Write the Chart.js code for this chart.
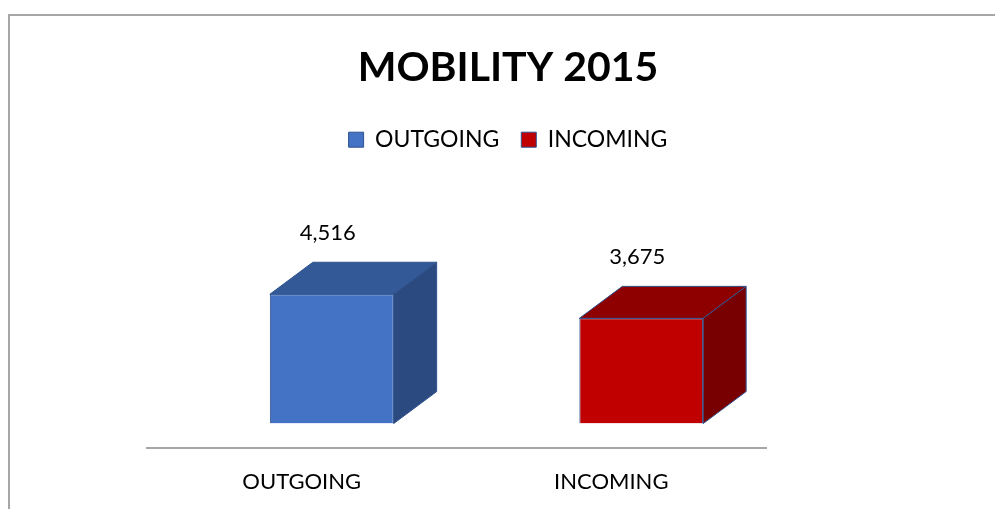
<!DOCTYPE html>
<html>
<head>
<meta charset="utf-8">
<script src="https://cdn.jsdelivr.net/npm/chart.js@4.4.1/dist/chart.umd.min.js"></script>
<style>
    html, body { margin: 0; padding: 0; background: #fff; overflow: hidden; }
    #frame {
        position: absolute; left: 8px; top: 14px; width: 1100px; height: 600px;
        border-top: 2px solid #a6a6a6; border-left: 2px solid #a6a6a6;
    }
    #wrap { position: absolute; left: 0; top: 0; width: 995px; height: 509px; }
</style>
</head>
<body>
<div id="frame"></div>
<div id="wrap"><canvas id="mobilityChart"></canvas></div>
<script>
const categories  = ['OUTGOING', 'INCOMING'];
const values      = [4516, 3675];
const frontColors = ['#4472C4', '#C00000'];
const topColors   = ['#335A96', '#8E0000'];
const sideColors  = ['#2A4A80', '#780000'];
const EDGE = '#2F528F';

// 3d look: front face shifted back from the floor line, plus depth
const SHIFT_X = 30, SHIFT_Y = -24;
const DEPTH_X = 43, DEPTH_Y = -32;

const cubePlugin = {
    id: 'cube',
    beforeDatasetsDraw(chart) {
        chart.ctx.save();
        chart.ctx.translate(SHIFT_X, SHIFT_Y);
    },
    afterDatasetsDraw(chart) {
        const ctx = chart.ctx;
        chart.getDatasetMeta(0).data.forEach((bar, i) => {
            const { x, y, base, width } = bar.getProps(['x', 'y', 'base', 'width'], true);
            const l = x - width / 2, r = x + width / 2;

            ctx.lineWidth = 1;
            ctx.strokeStyle = EDGE;

            // top face
            ctx.beginPath();
            ctx.moveTo(l, y);
            ctx.lineTo(l + DEPTH_X, y + DEPTH_Y);
            ctx.lineTo(r + DEPTH_X, y + DEPTH_Y);
            ctx.lineTo(r, y);
            ctx.closePath();
            ctx.fillStyle = topColors[i];
            ctx.fill();
            ctx.stroke();

            // side face
            ctx.beginPath();
            ctx.moveTo(r, y);
            ctx.lineTo(r + DEPTH_X, y + DEPTH_Y);
            ctx.lineTo(r + DEPTH_X, base + DEPTH_Y);
            ctx.lineTo(r, base);
            ctx.closePath();
            ctx.fillStyle = sideColors[i];
            ctx.fill();
            ctx.stroke();

            // value label
            ctx.fillStyle = '#000';
            ctx.font = '22px Lato';
            ctx.textAlign = 'center';
            ctx.textBaseline = 'middle';
            ctx.fillText(values[i].toLocaleString('en-US'), x - 4, y - 61);
        });
        ctx.restore();
    },
};

new Chart(document.getElementById('mobilityChart'), {
    type: 'bar',
    data: {
        labels: categories,
        datasets: [{
            data: values,
            backgroundColor: frontColors,
            borderColor: EDGE,
            borderWidth: 1,
            categoryPercentage: 1,
            barPercentage: 0.4,
        }],
    },
    options: {
        responsive: true,
        maintainAspectRatio: false,
        animation: false,
        layout: { padding: { left: 21, right: 0, top: 0, bottom: 1 } },
        plugins: {
            title: {
                display: true,
                text: 'MOBILITY 2015',
                color: '#000',
                font: { family: 'Lato', size: 41, weight: 'bold' },
                padding: { top: 43, bottom: 14 },
            },
            legend: {
                position: 'top',
                labels: {
                    color: '#000',
                    font: { family: 'Lato', size: 23 },
                    boxWidth: 15,
                    boxHeight: 15,
                    padding: 22,
                    generateLabels: chart => categories.map((c, i) => ({
                        text: c,
                        fillStyle: frontColors[i],
                        strokeStyle: EDGE,
                        lineWidth: 1,
                        hidden: false,
                        index: i,
                    })),
                },
                onClick: () => {},
            },
            tooltip: { enabled: false },
        },
        scales: {
            x: {
                grid: { display: false },
                border: { display: true, color: '#a6a6a6', width: 2 },
                ticks: { color: '#000', font: { family: 'Lato', size: 22 }, padding: 13 },
            },
            y: {
                position: 'left',
                min: 0,
                max: 10000,
                grid: { display: false },
                border: { display: false },
                ticks: { display: false },
                afterFit: s => { s.width = 126; },
            },
            yRight: {
                position: 'right',
                min: 0,
                max: 10000,
                grid: { display: false },
                border: { display: false },
                ticks: { display: false },
                afterFit: s => { s.width = 229; },
            },
        },
    },
    plugins: [cubePlugin],
});
</script>
</body>
</html>
